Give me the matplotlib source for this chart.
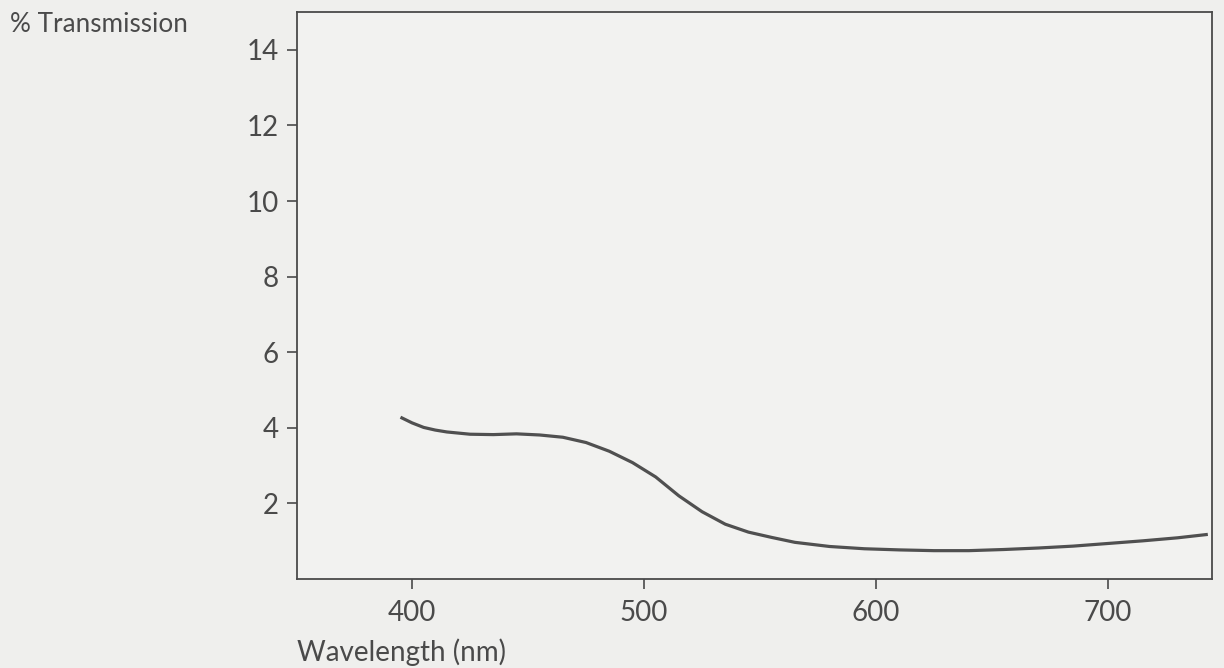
import matplotlib.pyplot as plt
import numpy as np

# transmission curve
wavelength = [395, 400, 405, 410, 415, 425, 435, 445, 455, 465, 475, 485, 495, 505, 515,
              525, 535, 545, 555, 565, 580, 595, 610, 625, 640, 655, 670, 685, 700, 715,
              730, 743]
transmission = [4.28, 4.13, 4.01, 3.94, 3.89, 3.83, 3.82, 3.84, 3.81, 3.75, 3.61, 3.38,
                3.08, 2.70, 2.20, 1.78, 1.45, 1.24, 1.10, 0.97, 0.86, 0.80, 0.77, 0.75,
                0.75, 0.78, 0.82, 0.87, 0.94, 1.01, 1.09, 1.18]
xticks = [400, 500, 600, 700]
yticks = [2, 4, 6, 8, 10, 12, 14]

ink = '#4a4a4a'
plt.rcParams['font.family'] = ['Lato', 'DejaVu Sans']
plt.rcParams['font.size'] = 20

fig = plt.figure(figsize=(12.24, 6.68), dpi=100)
fig.set_facecolor('#efefed')
ax = fig.add_axes([297 / 1224, 89 / 668, 915 / 1224, 567 / 668])
ax.set_facecolor('#f2f2f0')

ax.plot(wavelength, transmission, color='#505050', lw=2.3,
        solid_capstyle='butt', solid_joinstyle='round')

ax.set_xlim(350.4, 744.8)
ax.set_ylim(0, 15)
ax.set_xticks(xticks)
ax.set_yticks(yticks)
for s in ax.spines.values():
    s.set_color(ink)
    s.set_linewidth(1.3)
ax.tick_params(colors=ink, width=1.2, length=7, labelsize=20)
ax.tick_params(axis='x', pad=8)
ax.tick_params(axis='y', pad=6)

ax.set_xlabel('Wavelength (nm)', loc='left', color=ink, fontsize=20, labelpad=9)
fig.text(10 / 1224, 1 - 25 / 668, '% Transmission', color=ink, fontsize=18.8,
         va='center', ha='left')

plt.savefig('out.png', dpi=100, facecolor=fig.get_facecolor())
